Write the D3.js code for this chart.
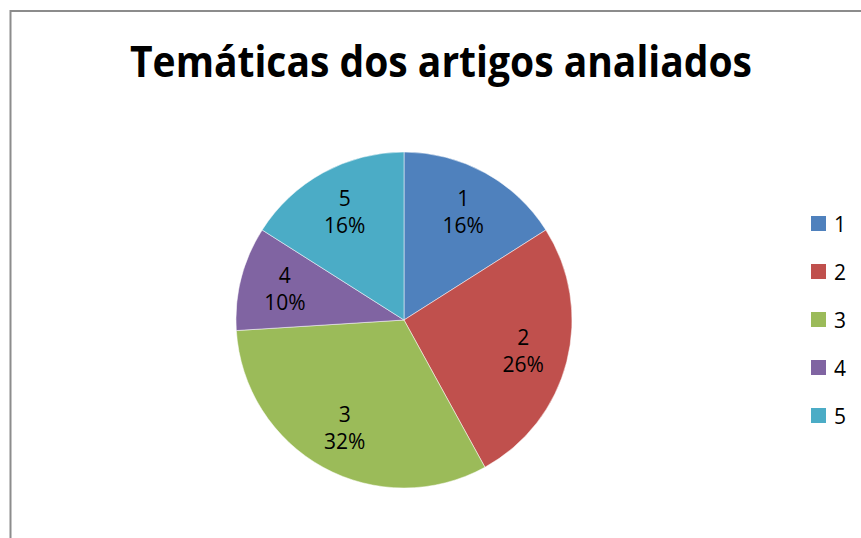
<!DOCTYPE html>
<html>
<head>
<meta charset="utf-8">
<script src="https://cdn.jsdelivr.net/npm/d3@7/dist/d3.min.js"></script>
<style>
  html, body { margin: 0; padding: 0; background: #fff; }
  svg { display: block; }
</style>
</head>
<body>
<svg id="chart" width="861" height="538"></svg>
<script>
const title = "Temáticas dos artigos analiados";
const categories = ["1", "2", "3", "4", "5"];
const values = [16, 26, 32, 10, 16];
const colors = ["#4F81BD", "#C0504D", "#9BBB59", "#8064A2", "#4BACC6"];

const svg = d3.select("#chart");
const font = "'Open Sans', 'Noto Sans', sans-serif";

// Chart area border
svg.append("rect")
  .attr("x", 10.5).attr("y", 11)
  .attr("width", 870).attr("height", 560)
  .attr("fill", "#fff")
  .attr("stroke", "#8c8c8c")
  .attr("stroke-width", 2);

// Title
svg.append("text")
  .attr("x", 441).attr("y", 77)
  .attr("text-anchor", "middle")
  .attr("font-family", font)
  .attr("font-weight", "bold")
  .attr("font-size", 43)
  .attr("textLength", 622)
  .attr("lengthAdjust", "spacingAndGlyphs")
  .attr("fill", "#000")
  .text(title);

const cx = 404, cy = 320, R = 168;
const data = categories.map((c, i) => ({ cat: c, value: values[i], color: colors[i] }));
const total = d3.sum(values);

const pie = d3.pie().value(d => d.value).sort(null);
const arc = d3.arc().innerRadius(0).outerRadius(R);
const labelArc = d3.arc().innerRadius(246).outerRadius(0);

const g = svg.append("g").attr("transform", `translate(${cx},${cy})`);
const arcs = pie(data);

g.selectAll("path.slice")
  .data(arcs)
  .enter().append("path")
  .attr("class", "slice")
  .attr("d", arc)
  .attr("fill", d => d.data.color)
  .attr("stroke", "#ffffff")
  .attr("stroke-width", 0.5);

const fmt = d3.format(".0%");
const labels = g.selectAll("g.lbl")
  .data(arcs)
  .enter().append("g")
  .attr("class", "lbl")
  .attr("transform", d => {
    const [x, y] = labelArc.centroid(d);
    return `translate(${x},${y})`;
  });

labels.append("text")
  .attr("text-anchor", "middle")
  .attr("y", -6)
  .attr("font-family", font)
  .attr("font-size", 21)
  .attr("fill", "#000")
  .text(d => d.data.cat);
labels.append("text")
  .attr("text-anchor", "middle")
  .attr("y", 21)
  .attr("font-family", font)
  .attr("font-size", 21)
  .attr("fill", "#000")
  .text(d => fmt(d.data.value / total));

// Legend
const legend = svg.append("g").attr("transform", "translate(811,216)");
const items = legend.selectAll("g.item")
  .data(data)
  .enter().append("g")
  .attr("class", "item")
  .attr("transform", (d, i) => `translate(0,${i * 48})`);
items.append("rect")
  .attr("width", 15).attr("height", 15)
  .attr("fill", d => d.color);
items.append("text")
  .attr("x", 23).attr("y", 16)
  .attr("font-family", font)
  .attr("font-size", 21)
  .attr("fill", "#000")
  .text(d => d.cat);
</script>
</body>
</html>
